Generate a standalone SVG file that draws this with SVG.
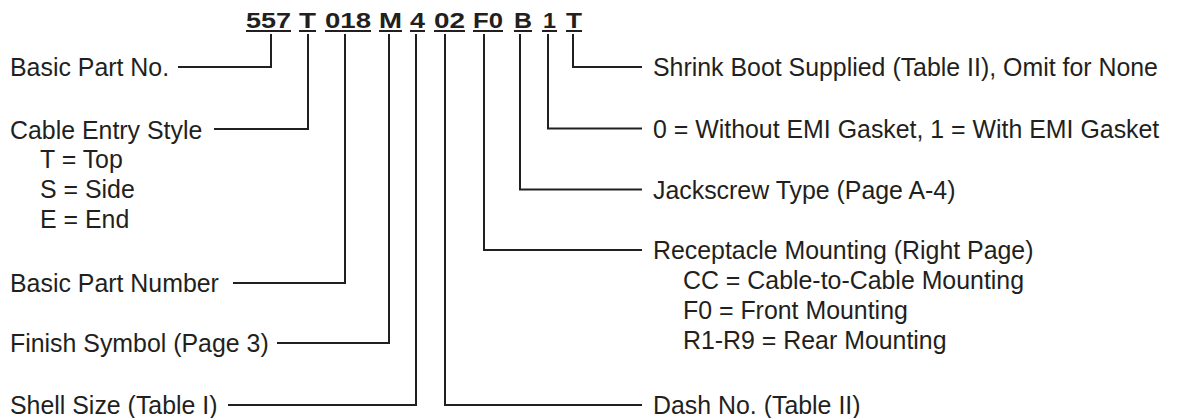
<svg xmlns="http://www.w3.org/2000/svg" width="1178" height="418" viewBox="0 0 1178 418">
<style>
  .lbl { font-family: "Liberation Sans", Arial, sans-serif; font-size: 24.9px; fill: #231f20; }
  .code { font-family: "Liberation Sans", Arial, sans-serif; font-size: 22px; font-weight: bold; fill: #231f20; }
  .ul { stroke: #231f20; stroke-width: 2; }
  .conn { fill: none; stroke: #231f20; stroke-width: 2; stroke-linejoin: miter; }
</style>
<rect width="1178" height="418" fill="#ffffff"/>
<g id="code">
  <text class="code" x="246" y="28" textLength="45" lengthAdjust="spacingAndGlyphs">557</text>
  <text class="code" x="299" y="28" textLength="17" lengthAdjust="spacingAndGlyphs">T</text>
  <text class="code" x="325" y="28" textLength="46" lengthAdjust="spacingAndGlyphs">018</text>
  <text class="code" x="379" y="28" textLength="23" lengthAdjust="spacingAndGlyphs">M</text>
  <text class="code" x="410" y="28" textLength="15" lengthAdjust="spacingAndGlyphs">4</text>
  <text class="code" x="434" y="28" textLength="31" lengthAdjust="spacingAndGlyphs">02</text>
  <text class="code" x="473" y="28" textLength="30" lengthAdjust="spacingAndGlyphs">F0</text>
  <text class="code" x="514" y="28" textLength="18" lengthAdjust="spacingAndGlyphs">B</text>
  <text class="code" x="543" y="28" textLength="13" lengthAdjust="spacingAndGlyphs">1</text>
  <text class="code" x="566" y="28" textLength="16" lengthAdjust="spacingAndGlyphs">T</text>
  <line class="ul" x1="246" y1="31" x2="291" y2="31"/>
  <line class="ul" x1="299" y1="31" x2="316" y2="31"/>
  <line class="ul" x1="325" y1="31" x2="371" y2="31"/>
  <line class="ul" x1="379" y1="31" x2="402" y2="31"/>
  <line class="ul" x1="410" y1="31" x2="425" y2="31"/>
  <line class="ul" x1="434" y1="31" x2="465" y2="31"/>
  <line class="ul" x1="473" y1="31" x2="503" y2="31"/>
  <line class="ul" x1="514" y1="31" x2="532" y2="31"/>
  <line class="ul" x1="542" y1="31" x2="557" y2="31"/>
  <line class="ul" x1="566" y1="31" x2="582" y2="31"/>
</g>
<g id="connectors">
  <path class="conn" d="M271,34 V67 H178"/>
  <path class="conn" d="M308,34 V129 H214"/>
  <path class="conn" d="M345,34 V283 H233"/>
  <path class="conn" d="M389,34 V343 H277"/>
  <path class="conn" d="M416,34 V405 H228"/>
  <path class="conn" d="M445,34 V405 H642"/>
  <path class="conn" d="M484,34 V250 H642"/>
  <path class="conn" d="M520,34 V189.5 H642"/>
  <path class="conn" d="M548,34 V128.5 H642"/>
  <path class="conn" d="M573,34 V67 H642"/>
</g>
<g id="basic-part-no"><text class="lbl" x="10" y="76">Basic Part No.</text></g>
<g id="cable-entry-style">
  <text class="lbl" x="10" y="138.5">Cable Entry Style</text>
  <text class="lbl" x="40" y="168">T = Top</text>
  <text class="lbl" x="40" y="198">S = Side</text>
  <text class="lbl" x="40" y="228">E = End</text>
</g>
<g id="basic-part-number"><text class="lbl" x="10" y="292">Basic Part Number</text></g>
<g id="finish-symbol"><text class="lbl" x="10" y="352">Finish Symbol (Page 3)</text></g>
<g id="shell-size"><text class="lbl" x="10" y="413.5">Shell Size (Table I)</text></g>
<g id="shrink-boot"><text class="lbl" x="653" y="76">Shrink Boot Supplied (Table II), Omit for None</text></g>
<g id="emi-gasket"><text class="lbl" x="653" y="137.5">0 = Without EMI Gasket, 1 = With EMI Gasket</text></g>
<g id="jackscrew"><text class="lbl" x="653" y="199">Jackscrew Type (Page A-4)</text></g>
<g id="receptacle-mounting">
  <text class="lbl" x="653" y="259">Receptacle Mounting (Right Page)</text>
  <text class="lbl" x="683" y="289">CC = Cable-to-Cable Mounting</text>
  <text class="lbl" x="683" y="319">F0 = Front Mounting</text>
  <text class="lbl" x="683" y="349">R1-R9 = Rear Mounting</text>
</g>
<g id="dash-no"><text class="lbl" x="653" y="414">Dash No. (Table II)</text></g>
</svg>
